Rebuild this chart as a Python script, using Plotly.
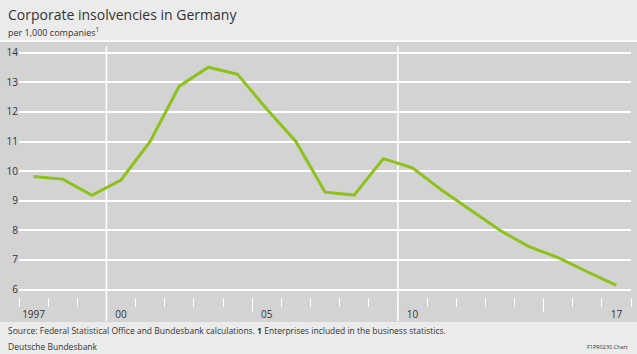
import plotly.graph_objects as go

years = list(range(1997, 2018))
insolvencies = [9.82, 9.73, 9.18, 9.70, 11.0, 12.87, 13.51, 13.27, 12.1, 11.0,
                9.29, 9.19, 10.42, 10.11, 9.36, 8.68, 8.0, 7.45, 7.08, 6.6, 6.14]
label_years = [1997, 2000, 2005, 2010, 2017]
label_text = ["1997", "00", "05", "10", "17"]
y_ticks = [6, 7, 8, 9, 10, 11, 12, 13, 14]
period_lines = [2000, 2010]

W, H = 637, 354
L, R, T, B = 19, 6, 46, 57
pw, ph = W - L - R, H - T - B

GREY = "#d3d3d3"
LIGHT = "#ebebeb"
TXT = "#333333"
GREEN = "#8cc21a"
FONT = "Open Sans"

fig = go.Figure()
fig.add_trace(go.Scatter(
    x=[y + 0.5 for y in years], y=insolvencies, mode="lines",
    line=dict(color=GREEN, width=3), hoverinfo="skip", showlegend=False))
# label axis trace (carries the same data on the label axis)
fig.add_trace(go.Scatter(x=[y + 0.5 for y in years], y=insolvencies, xaxis="x2",
                         mode="lines", line=dict(color="rgba(0,0,0,0)", width=0),
                         showlegend=False, hoverinfo="skip"))

shapes = [dict(type="rect", xref="paper", yref="paper",
               x0=-L / pw, x1=1 + R / pw, y0=-(322 - (T + ph)) / ph, y1=1 + (T - 42) / ph,
               fillcolor=GREY, line=dict(width=0), layer="below"),
          dict(type="line", xref="paper", yref="paper",
               x0=-L / pw, x1=1 + R / pw, y0=1 + (T - 41) / ph, y1=1 + (T - 41) / ph,
               line=dict(color="white", width=1.5), layer="below")]
for v in period_lines:
    shapes.append(dict(type="line", xref="x", yref="paper", x0=v, x1=v,
                       y0=-(321 - (T + ph)) / ph, y1=1.0,
                       line=dict(color="white", width=1.5), layer="below"))

fig.update_layout(
    width=W, height=H, margin=dict(l=L, r=R, t=T, b=B, autoexpand=False),
    paper_bgcolor=LIGHT, plot_bgcolor=GREY,
    font=dict(family=FONT, color=TXT, size=10),
    shapes=shapes,
    xaxis=dict(range=[1997, 2018], tickmode="linear", tick0=2000, dtick=5,
               ticks="outside", ticklen=14, tickwidth=1, tickcolor="white",
               showticklabels=False, showgrid=False, zeroline=False, showline=False,
               minor=dict(tick0=1997, dtick=1, ticks="outside", ticklen=9,
                          tickwidth=1, tickcolor="white", showgrid=False)),
    xaxis2=dict(range=[1997, 2018], overlaying="x", side="bottom",
                tickmode="array", tickvals=[y + 0.5 for y in label_years],
                ticktext=label_text, ticks="outside", ticklen=8,
                tickcolor="rgba(0,0,0,0)", showgrid=False, zeroline=False,
                showline=False, tickfont=dict(size=10, color=TXT)),
    yaxis=dict(range=[5.747, 14.226], tickmode="array", tickvals=y_ticks,
               showgrid=True, gridcolor="white", gridwidth=1.5, zeroline=False,
               showline=False, ticks="", tickfont=dict(size=10, color=TXT)),
)

fig.add_annotation(text="Corporate insolvencies in Germany", xref="paper", yref="paper",
                   x=-(L - 6) / pw, y=1 + (T - 14) / ph, xanchor="left", yanchor="middle",
                   showarrow=False, font=dict(size=14, color=TXT, family=FONT))
fig.add_annotation(text="per 1,000 companies<sup>1</sup>", xref="paper", yref="paper",
                   x=-(L - 6) / pw, y=1 + (T - 32) / ph, xanchor="left", yanchor="middle",
                   showarrow=False, font=dict(size=9, color=TXT, family=FONT))
fig.add_annotation(text="Source: Federal Statistical Office and Bundesbank calculations. <b>1</b> Enterprises included in the business statistics.",
                   xref="paper", yref="paper",
                   x=-(L - 6) / pw, y=-(331 - (T + ph)) / ph, xanchor="left", yanchor="middle",
                   showarrow=False, font=dict(size=8.5, color=TXT, family=FONT))
fig.add_annotation(text="Deutsche Bundesbank", xref="paper", yref="paper",
                   x=-(L - 6) / pw, y=-(346 - (T + ph)) / ph, xanchor="left", yanchor="middle",
                   showarrow=False, font=dict(size=8.5, color=TXT, family=FONT))
fig.add_annotation(text="F1PR0230.Chart", xref="paper", yref="paper",
                   x=1 + (R - 7) / pw, y=-(347 - (T + ph)) / ph, xanchor="right", yanchor="middle",
                   showarrow=False, font=dict(size=5.5, color=TXT, family=FONT))

fig.write_html("out.html")
